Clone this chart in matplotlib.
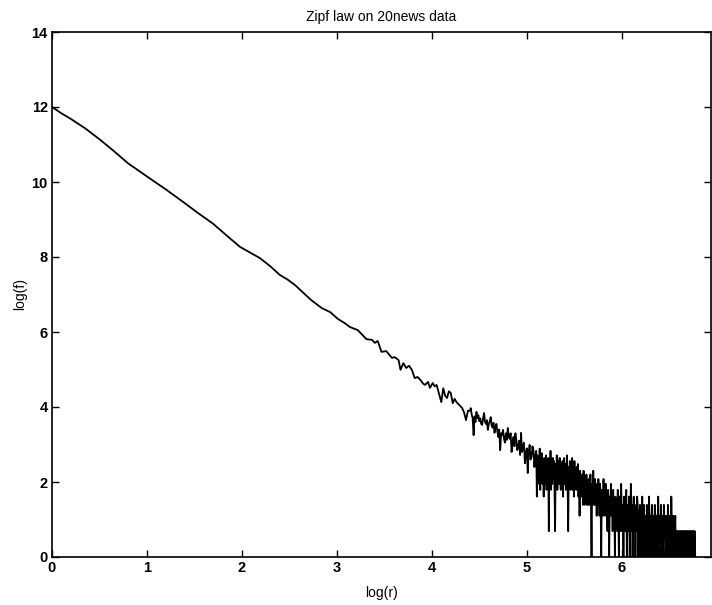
import numpy as np
import matplotlib
matplotlib.use("Agg")
import matplotlib.pyplot as plt

# smooth head of the rank/frequency curve (log scale)
log_r_head = [0.00, 0.10, 0.20, 0.35, 0.50, 0.64, 0.80, 1.01, 1.20, 1.38,
              1.55, 1.69, 1.85, 1.98, 2.10, 2.19, 2.30, 2.40, 2.48, 2.56,
              2.64, 2.73, 2.84, 2.93, 3.01, 3.08, 3.14, 3.22, 3.27, 3.31,
              3.37, 3.40, 3.43, 3.47, 3.52, 3.55, 3.58, 3.61, 3.65, 3.67,
              3.70, 3.73, 3.76, 3.79, 3.82, 3.85, 3.88, 3.91, 3.93, 3.96,
              3.98, 4.01, 4.03, 4.05, 4.08, 4.10, 4.12, 4.14, 4.16, 4.18,
              4.20, 4.22, 4.24, 4.26, 4.29, 4.32, 4.34, 4.36, 4.38]
log_f_head = [12.00, 11.83, 11.68, 11.43, 11.14, 10.85, 10.50, 10.13, 9.80, 9.47,
              9.15, 8.90, 8.55, 8.27, 8.10, 7.97, 7.75, 7.52, 7.40, 7.25,
              7.06, 6.85, 6.64, 6.53, 6.35, 6.24, 6.13, 6.05, 5.92, 5.81,
              5.79, 5.71, 5.76, 5.47, 5.49, 5.40, 5.31, 5.33, 5.25, 4.99,
              5.17, 5.04, 5.10, 4.99, 4.77, 4.80, 4.72, 4.62, 4.59, 4.67,
              4.51, 4.64, 4.55, 4.59, 4.32, 4.13, 4.50, 4.30, 4.24, 4.42,
              4.37, 4.10, 4.22, 4.13, 4.05, 3.97, 3.85, 3.65, 3.90]

# noisy middle part
log_r_mid = [4.40, 4.41, 4.42, 4.43, 4.44, 4.45, 4.46, 4.47, 4.48, 4.49,
             4.50, 4.51, 4.52, 4.53, 4.54, 4.55, 4.56, 4.57, 4.58, 4.59,
             4.60, 4.61, 4.62, 4.63, 4.64, 4.65, 4.66, 4.67, 4.68, 4.69,
             4.70, 4.71, 4.72, 4.73, 4.74, 4.75, 4.76, 4.77, 4.78, 4.79,
             4.80, 4.81, 4.82, 4.83, 4.84, 4.85, 4.86, 4.87, 4.88, 4.89,
             4.90, 4.91, 4.92, 4.93, 4.94, 4.95, 4.96, 4.97, 4.98, 4.99,
             5.00, 5.01, 5.02, 5.03, 5.04, 5.05, 5.06, 5.07, 5.08, 5.09]
log_f_mid = [3.90, 3.97, 3.80, 3.70, 3.25, 3.75, 3.60, 3.87, 3.70, 3.78,
             3.62, 3.70, 3.55, 3.52, 3.70, 3.84, 3.60, 3.55, 3.65, 3.39,
             3.55, 3.62, 3.73, 3.50, 3.45, 3.58, 3.31, 3.45, 3.55, 3.35,
             3.20, 3.40, 2.85, 3.30, 3.25, 3.39, 3.15, 3.05, 3.30, 3.12,
             3.44, 3.20, 3.15, 3.30, 2.80, 3.05, 3.20, 2.95, 3.30, 3.12,
             2.85, 2.95, 3.10, 2.72, 3.31, 2.80, 2.93, 3.05, 2.50, 2.75,
             2.90, 2.24, 2.80, 2.99, 2.60, 2.67, 2.95, 2.85, 2.40, 2.70]

# dense tail, frequencies of a few occurrences only
log_r_tail = [5.100, 5.106, 5.112, 5.118, 5.124, 5.130, 5.136, 5.142, 5.148, 5.154,
              5.160, 5.166, 5.172, 5.178, 5.184, 5.190, 5.196, 5.202, 5.208, 5.214,
              5.220, 5.226, 5.232, 5.238, 5.244, 5.250, 5.256, 5.262, 5.268, 5.274,
              5.280, 5.286, 5.292, 5.298, 5.304, 5.310, 5.316, 5.322, 5.328, 5.334,
              5.340, 5.346, 5.352, 5.358, 5.364, 5.370, 5.376, 5.382, 5.388, 5.394,
              5.400, 5.406, 5.412, 5.418, 5.424, 5.430, 5.436, 5.442, 5.448, 5.454,
              5.460, 5.466, 5.472, 5.478, 5.484, 5.490, 5.496, 5.502, 5.508, 5.514,
              5.520, 5.526, 5.532, 5.538, 5.544, 5.550, 5.556, 5.562, 5.568, 5.574,
              5.580, 5.586, 5.592, 5.598, 5.604, 5.610, 5.616, 5.622, 5.628, 5.634,
              5.640, 5.646, 5.652, 5.658, 5.664, 5.670, 5.676, 5.682, 5.688, 5.694,
              5.700, 5.706, 5.712, 5.718, 5.724, 5.730, 5.736, 5.742, 5.748, 5.754,
              5.760, 5.766, 5.772, 5.778, 5.784, 5.790, 5.796, 5.802, 5.808, 5.814,
              5.820, 5.826, 5.832, 5.838, 5.844, 5.850, 5.856, 5.862, 5.868, 5.874,
              5.880, 5.886, 5.892, 5.898, 5.904, 5.910, 5.916, 5.922, 5.928, 5.934,
              5.940, 5.946, 5.952, 5.958, 5.964, 5.970, 5.976, 5.982, 5.988, 5.994,
              6.000, 6.006, 6.012, 6.018, 6.024, 6.030, 6.036, 6.042, 6.048, 6.054,
              6.060, 6.066, 6.072, 6.078, 6.084, 6.090, 6.096, 6.102, 6.108, 6.114,
              6.120, 6.126, 6.132, 6.138, 6.144, 6.150, 6.156, 6.162, 6.168, 6.174,
              6.180, 6.186, 6.192, 6.198, 6.204, 6.210, 6.216, 6.222, 6.228, 6.234,
              6.240, 6.246, 6.252, 6.258, 6.264, 6.270, 6.276, 6.282, 6.288, 6.294,
              6.300, 6.306, 6.312, 6.318, 6.324, 6.330, 6.336, 6.342, 6.348, 6.354,
              6.360, 6.366, 6.372, 6.378, 6.384, 6.390, 6.396, 6.402, 6.408, 6.414,
              6.420, 6.426, 6.432, 6.438, 6.444, 6.450, 6.456, 6.462, 6.468, 6.474,
              6.480, 6.486, 6.492, 6.498, 6.504, 6.510, 6.516, 6.522, 6.528, 6.534,
              6.540, 6.546, 6.552, 6.558, 6.564, 6.570, 6.576, 6.582, 6.588, 6.594,
              6.600, 6.606, 6.612, 6.618, 6.624, 6.630, 6.636, 6.642, 6.648, 6.654,
              6.660, 6.666, 6.672, 6.678, 6.684, 6.690, 6.696, 6.702, 6.708, 6.714,
              6.720, 6.726, 6.732, 6.738, 6.744, 6.750, 6.756, 6.762, 6.768, 6.774]
log_f_tail = [2.83, 1.61, 2.71, 1.95, 2.64, 2.20, 2.89, 1.79, 2.56, 2.08,
              2.77, 1.95, 2.48, 1.61, 2.64, 1.95, 2.40, 2.71, 1.79, 2.56,
              2.08, 2.64, 0.69, 2.48, 1.95, 2.83, 1.79, 2.40, 1.95, 2.64,
              2.08, 2.56, 1.79, 0.69, 2.48, 1.95, 2.71, 1.79, 2.40, 2.56,
              1.95, 2.64, 2.08, 1.79, 2.48, 1.95, 2.56, 1.61, 2.40, 2.64,
              1.95, 2.48, 1.79, 2.30, 2.71, 1.95, 0.69, 2.40, 1.95, 2.56,
              1.79, 2.48, 2.08, 2.64, 1.79, 2.40, 1.61, 2.56, 1.95, 2.30,
              1.79, 2.40, 1.95, 2.48, 1.61, 2.20, 1.10, 2.30, 1.79, 2.08,
              1.61, 2.20, 1.39, 2.30, 1.95, 1.39, 2.08, 1.61, 2.20, 1.39,
              1.95, 1.39, 2.08, 1.61, 1.39, 2.20, 1.39, 0.00, 1.95, 1.39,
              2.30, 1.61, 1.39, 2.08, 1.39, 1.95, 1.10, 1.79, 1.39, 2.08,
              1.61, 1.10, 1.95, 1.39, 0.00, 1.79, 1.39, 1.10, 2.08, 1.39,
              1.79, 1.10, 1.95, 1.39, 1.10, 0.69, 1.79, 1.10, 0.00, 1.61,
              1.39, 1.95, 1.10, 1.61, 0.69, 1.79, 1.10, 1.39, 0.00, 1.61,
              1.10, 1.39, 0.69, 1.79, 1.10, 0.00, 1.61, 1.39, 0.69, 1.95,
              1.10, 0.69, 1.39, 0.00, 1.61, 1.10, 0.69, 1.39, 1.79, 0.00,
              1.10, 1.39, 0.69, 1.61, 0.00, 1.10, 1.95, 0.69, 1.39, 0.00,
              1.10, 1.61, 0.69, 1.39, 0.00, 1.10, 0.69, 1.61, 1.39, 0.00,
              0.69, 1.10, 1.39, 0.00, 1.10, 0.69, 1.61, 0.00, 1.10, 1.39,
              0.00, 0.69, 1.10, 0.00, 1.39, 0.69, 1.10, 0.00, 1.61, 0.69,
              1.10, 0.00, 0.69, 1.39, 0.00, 1.10, 0.69, 0.00, 1.39, 1.10,
              0.00, 0.69, 1.10, 0.00, 1.61, 0.69, 0.00, 1.10, 0.69, 1.39,
              0.00, 1.10, 0.69, 0.00, 1.39, 0.69, 1.10, 0.00, 0.69, 1.10,
              0.00, 1.39, 0.69, 0.00, 1.10, 0.69, 0.00, 1.61, 0.69, 0.00,
              1.10, 0.69, 0.00, 0.69, 1.10, 0.00, 0.69, 0.00, 0.69, 0.69,
              0.00, 0.69, 0.00, 0.69, 0.69, 0.00, 0.69, 0.00, 0.69, 0.00,
              0.69, 0.69, 0.00, 0.69, 0.00, 0.69, 0.00, 0.69, 0.69, 0.00,
              0.69, 0.00, 0.69, 0.00, 0.69, 0.00, 0.69, 0.00, 0.69, 0.00]

log_r = np.array(log_r_head + log_r_mid + log_r_tail)
log_f = np.array(log_f_head + log_f_mid + log_f_tail)

plt.rcParams['font.family'] = ['Liberation Sans', 'DejaVu Sans']

fig = plt.figure(figsize=(7.12, 6.05), dpi=100)
ax = fig.add_axes([52/712, 48/605, 659/712, 525/605])
ax.plot(log_r, log_f, color='black', linewidth=1.3)

ax.set_xlim(0, 6.94)
ax.set_ylim(0, 14)
ax.set_xticks(range(0, 7))
ax.set_yticks(range(0, 15, 2))
ax.tick_params(direction='in', length=5, width=1, top=True, right=True,
               labelsize=10.5, pad=3)
for lab in ax.get_xticklabels() + ax.get_yticklabels():
    lab.set_fontweight('bold')
for sp in ax.spines.values():
    sp.set_linewidth(1.2)

ax.set_title("Zipf law on 20news data", fontsize=10, pad=8)
ax.set_xlabel("log(r)", fontsize=10, labelpad=8)
ax.set_ylabel("log(f)", fontsize=10, labelpad=3)

fig.savefig("out.png", dpi=100)
